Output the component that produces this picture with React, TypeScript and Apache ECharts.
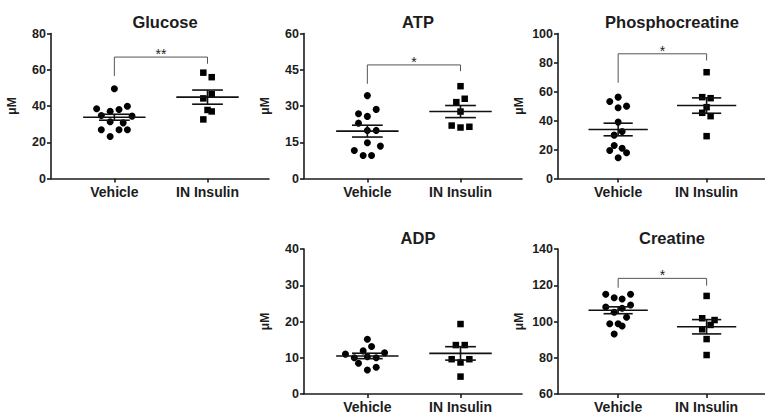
import React, { useEffect, useRef } from 'react';
import * as echarts from 'echarts';

const groups = ['Vehicle', 'IN Insulin'];
const panelTitles = ['Glucose', 'ATP', 'Phosphocreatine', 'ADP', 'Creatine'];
const yMin = [0, 0, 0, 0, 60];
const yMax = [80, 60, 100, 40, 140];
const yStep = [20, 15, 20, 10, 20];

const glucoseVehicle = [49.5, 38.5, 37.1, 38.1, 39.9, 34.8, 34.4, 31.3, 30.7, 26.9, 26.9, 26.9, 23.2];
const glucoseVehicleJitter = [0, -0.19, -0.045, 0.05, 0.14, -0.14, 0.19, -0.045, 0.095, -0.14, 0.05, 0.14, -0.045];
const glucoseInsulin = [58.4, 55.9, 46.5, 44.2, 37.8, 37.0, 32.6];
const glucoseInsulinJitter = [-0.045, 0.045, 0.045, -0.045, 0, 0.045, -0.045];

const atpVehicle = [34.3, 26.8, 25.7, 28.6, 22.9, 19.9, 19.9, 14.8, 13.4, 11.6, 9.5, 9.5];
const atpVehicleJitter = [0, -0.095, 0, 0.095, -0.095, 0, 0.095, 0, 0.14, -0.14, -0.045, 0.045];
const atpInsulin = [38.2, 31.6, 33.0, 27.7, 21.9, 21.1, 21.4];
const atpInsulinJitter = [0, -0.045, 0.045, 0, -0.095, 0, 0.095];

const pcrVehicle = [53.1, 56.1, 48.8, 49.9, 38.9, 32.4, 29.9, 22.8, 19.3, 20.9, 17.7, 14.3];
const pcrVehicleJitter = [-0.095, 0, 0, 0.095, 0, 0.045, -0.045, -0.045, -0.095, 0.045, 0.095, 0];
const pcrInsulin = [73.3, 56.1, 55.4, 49.2, 45.3, 43.0, 29.2];
const pcrInsulinJitter = [0, -0.05, 0.045, 0, -0.05, 0.045, 0];

const adpVehicle = [15.1, 11.9, 13.1, 11.0, 11.4, 10.0, 10.3, 10.0, 8.5, 6.6, 7.4];
const adpVehicleJitter = [0, -0.045, 0.045, -0.235, 0.185, -0.14, 0, 0.095, -0.095, 0, 0.095];
const adpInsulin = [19.3, 13.5, 13.5, 9.6, 8.7, 9.6, 4.8];
const adpInsulinJitter = [0, -0.05, 0.045, -0.095, 0, 0.095, 0];

const creVehicle = [115.0, 113.1, 112.4, 115.0, 108.0, 107.3, 109.1, 105.1, 102.3, 98.8, 98.8, 97.5, 93.1];
const creVehicleJitter = [-0.14, -0.045, 0.045, 0.14, -0.14, 0.045, 0.14, -0.045, 0.095, -0.095, 0, 0.045, -0.045];
const creInsulin = [114.1, 101.8, 100.8, 98.1, 95.7, 90.3, 81.5];
const creInsulinJitter = [0, -0.05, 0.09, 0.045, -0.05, 0, 0];

// mean and SEM: [vehicle, insulin]
const means = [[33.8, 44.9], [19.6, 27.7], [33.8, 50.3], [10.5, 11.2], [106.2, 97.1]];
const sems = [[1.65, 3.9], [2.45, 2.5], [4.35, 5.3], [0.75, 1.85], [1.9, 3.95]];

// significance brackets: [bar level, left leg end, right leg end]; null = none
const brackets = [[67.0, 56.5, 63.3], [47.0, 39.2, 44.4], [86.0, 66.0, 81.4], null, [123.8, 118.6, 119.8]];
const bracketLabels = ['**', '*', '*', '', '*'];

const vehicleSets = [
  [glucoseVehicle, glucoseVehicleJitter],
  [atpVehicle, atpVehicleJitter],
  [pcrVehicle, pcrVehicleJitter],
  [adpVehicle, adpVehicleJitter],
  [creVehicle, creVehicleJitter],
];
const insulinSets = [
  [glucoseInsulin, glucoseInsulinJitter],
  [atpInsulin, atpInsulinJitter],
  [pcrInsulin, pcrInsulinJitter],
  [adpInsulin, adpInsulinJitter],
  [creInsulin, creInsulinJitter],
];

const FONT = '"Liberation Sans", Arial, Helvetica, sans-serif';
const INK = '#1c1c1c';

const gridLayout = [
  { left: 51, top: 33.5 },
  { left: 304, top: 33.5 },
  { left: 558, top: 33.5 },
  { left: 304, top: 249 },
  { left: 558, top: 249 },
];
const GRID_W = 218;
const GRID_H = 145;

export default function App() {
  const ref = useRef<HTMLDivElement>(null);
  useEffect(() => {
    if (!ref.current) return;
    const chart = echarts.init(ref.current, null, { renderer: 'svg' });

    const grids = gridLayout.map((g) => ({ left: g.left, top: g.top, width: GRID_W, height: GRID_H }));
    const xAxes = gridLayout.map((_, i) => ({
      gridIndex: i,
      type: 'value',
      min: 0.32,
      max: 2.66,
      axisLine: { show: true, lineStyle: { color: INK, width: 1.6 } },
      axisTick: { show: true, customValues: [1, 2], length: 4, lineStyle: { color: INK, width: 1.6 } },
      axisLabel: {
        customValues: [1, 2],
        formatter: (v: number) => groups[Math.round(v) - 1] || '',
        fontFamily: FONT,
        fontWeight: 'bold',
        fontSize: 14,
        color: INK,
        margin: 6,
      },
      splitLine: { show: false },
    }));
    const yAxes = gridLayout.map((_, i) => ({
      gridIndex: i,
      type: 'value',
      min: yMin[i],
      max: yMax[i],
      interval: yStep[i],
      axisLine: { show: true, lineStyle: { color: INK, width: 1.6 } },
      axisTick: { show: true, length: 4, lineStyle: { color: INK, width: 1.6 } },
      axisLabel: { fontFamily: FONT, fontWeight: 'bold', fontSize: 12.5, color: INK, margin: 5 },
      splitLine: { show: false },
      name: 'μM',
      nameLocation: 'middle',
      nameGap: 33,
      nameTextStyle: { fontFamily: FONT, fontWeight: 'bold', fontSize: 12, color: INK },
    }));

    const series: any[] = [];
    for (let i = 0; i < 5; i++) {
      const [vv, vj] = vehicleSets[i];
      const [iv, ij] = insulinSets[i];
      series.push({
        type: 'scatter',
        xAxisIndex: i,
        yAxisIndex: i,
        symbol: 'circle',
        symbolSize: 7,
        itemStyle: { color: '#000', opacity: 1 },
        data: vv.map((v, k) => [1 + vj[k], v]),
        z: 2,
      });
      series.push({
        type: 'scatter',
        xAxisIndex: i,
        yAxisIndex: i,
        symbol: 'rect',
        symbolSize: 6.5,
        itemStyle: { color: '#000', opacity: 1 },
        data: iv.map((v, k) => [2 + ij[k], v]),
        z: 2,
      });
      series.push({
        type: 'custom',
        xAxisIndex: i,
        yAxisIndex: i,
        z: 3,
        clip: false,
        data: [
          [1, means[i][0], sems[i][0]],
          [2, means[i][1], sems[i][1]],
        ],
        renderItem: (params: any, api: any) => {
          const g = api.value(0);
          const m = api.value(1);
          const s = api.value(2);
          const a = api.coord([g - 0.335, m]);
          const b = api.coord([g + 0.335, m]);
          const u1 = api.coord([g - 0.165, m + s]);
          const u2 = api.coord([g + 0.165, m + s]);
          const l1 = api.coord([g - 0.165, m - s]);
          const l2 = api.coord([g + 0.165, m - s]);
          const st = { stroke: '#111', lineWidth: 1.6 };
          return {
            type: 'group',
            children: [
              { type: 'line', shape: { x1: a[0], y1: a[1], x2: b[0], y2: b[1] }, style: st },
              { type: 'line', shape: { x1: u1[0], y1: u1[1], x2: u2[0], y2: u2[1] }, style: st },
              { type: 'line', shape: { x1: l1[0], y1: l1[1], x2: l2[0], y2: l2[1] }, style: st },
              { type: 'line', shape: { x1: (u1[0] + u2[0]) / 2, y1: u1[1], x2: (l1[0] + l2[0]) / 2, y2: l1[1] }, style: st },
            ],
          };
        },
      });
      const br = brackets[i];
      if (br) {
        const label = bracketLabels[i];
        series.push({
          type: 'custom',
          xAxisIndex: i,
          yAxisIndex: i,
          z: 3,
          clip: false,
          data: [br],
          renderItem: (params: any, api: any) => {
            const top = api.value(0);
            const lEnd = api.value(1);
            const rEnd = api.value(2);
            const p1 = api.coord([1, lEnd]);
            const p2 = api.coord([1, top]);
            const p3 = api.coord([2, top]);
            const p4 = api.coord([2, rEnd]);
            return {
              type: 'group',
              children: [
                {
                  type: 'polyline',
                  shape: { points: [p1, p2, p3, p4] },
                  style: { stroke: '#555', lineWidth: 1, fill: null },
                },
                {
                  type: 'text',
                  x: (p2[0] + p3[0]) / 2,
                  y: p2[1] + 4,
                  style: {
                    text: label,
                    fontFamily: FONT,
                    fontSize: 14,
                    fill: '#222',
                    align: 'center',
                    verticalAlign: 'bottom',
                  },
                },
              ],
            };
          },
        });
      }
    }

    const titles = gridLayout.map((g, i) => ({
      text: panelTitles[i],
      left: g.left + 109,
      top: g.top - 25,
      textAlign: 'center',
      textStyle: { fontFamily: FONT, fontWeight: 'bold', fontSize: 16.5, color: INK },
    }));

    chart.setOption({
      animation: false,
      backgroundColor: '#fff',
      title: titles,
      grid: grids,
      xAxis: xAxes,
      yAxis: yAxes,
      series,
    });
    return () => chart.dispose();
  }, []);
  return <div ref={ref} style={{ position: 'fixed', left: 0, top: 0, width: 765, height: 416 }} />;
}
